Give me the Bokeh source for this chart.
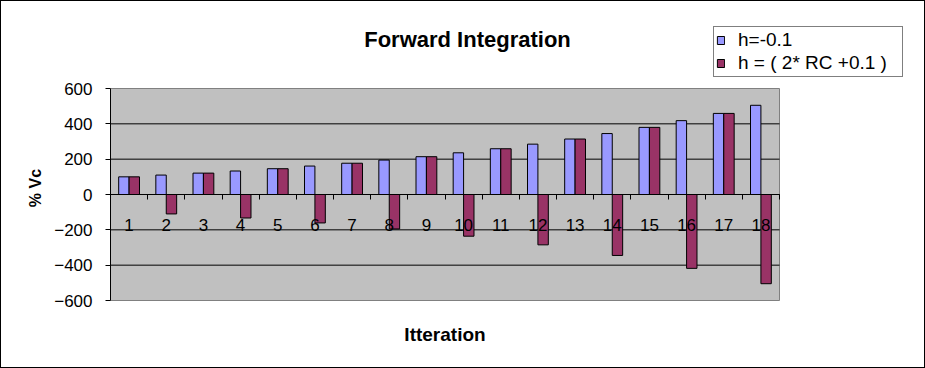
from bokeh.plotting import figure
from bokeh.models import (FixedTicker, LinearAxis, Legend, LegendItem, Range1d,
                          ColumnDataSource, BoxAnnotation, Label)
from bokeh.core.properties import value
from bokeh.transform import dodge
from bokeh.embed import file_html
from bokeh.resources import INLINE

# ---- data ----
iterations = [1, 2, 3, 4, 5, 6, 7, 8, 9, 10, 11, 12, 13, 14, 15, 16, 17, 18]
h_neg = [100, 110, 121, 133, 146, 161, 177, 195, 214, 236, 259, 285, 314, 345, 380, 418, 459, 505]
h_rc = [100, -110, 121, -133, 146, -161, 177, -195, 214, -236, 259, -285, 314, -345, 380, -418, 459, -505]
y_ticks = [-600, -400, -200, 0, 200, 400, 600]
category_labels = [str(i) for i in iterations]
series_names = ["h=-0.1", "h = ( 2* RC +0.1 )"]
title_text = "Forward Integration"
x_label = "Itteration"
y_label = "% Vc"

# ---- layout (pixels) ----
FIG_W, FIG_H = 925, 368
PLOT_L, PLOT_R, PLOT_T, PLOT_B = 110, 779, 88, 300   # grey plot area
FRAME_T, FRAME_R, FRAME_B = 15, 915, 360              # drawing frame
TITLE_X, TITLE_Y = 467, 39
XLAB_Y = 334
LEG_L, LEG_B = 713, 77

FONT = "Liberation Sans"
BLUE = "#9999FF"
RED = "#993366"
GREY = "#C0C0C0"

x0, x1 = iterations[0] - 0.5, iterations[-1] + 0.5
y0, y1 = y_ticks[0], y_ticks[-1]
px_x = (PLOT_R - PLOT_L) / (x1 - x0)
px_y = (PLOT_B - PLOT_T) / (y1 - y0)

p = figure(width=FIG_W, height=FIG_H, output_backend="svg", toolbar_location=None,
           x_range=Range1d(x0, x1 + (FRAME_R - PLOT_R) / px_x),
           y_range=Range1d(y0 - (FRAME_B - PLOT_B) / px_y, y1 + (PLOT_T - FRAME_T) / px_y),
           x_axis_type=None, y_axis_type=None,
           min_border_left=PLOT_L, min_border_right=FIG_W - FRAME_R,
           min_border_top=FRAME_T, min_border_bottom=FIG_H - FRAME_B)
p.background_fill_color = "white"
p.border_fill_color = None
p.outline_line_color = None
p.styles = {"outline": "1px solid black", "outline-offset": "-1px",
            "background-color": "white", "box-shadow": "inset 0 0 0 1px black"}

# grey plot area
p.add_layout(BoxAnnotation(left=x0, right=x1, bottom=y0, top=y1, level="image",
                           fill_color=GREY, fill_alpha=1,
                           line_color="#808080", line_width=1, line_alpha=1))

# horizontal grid lines (inside the plot area only)
grid_ticks = [t for t in y_ticks if t not in (y0, y1)]
p.segment(x0=[x0] * len(grid_ticks), x1=[x1] * len(grid_ticks),
          y0=grid_ticks, y1=grid_ticks, line_color="black", line_width=1,
          level="underlay")

# y axis
yaxis = LinearAxis(ticker=FixedTicker(ticks=y_ticks), axis_label=y_label, bounds=(y0, y1))
yaxis.axis_line_color = "black"
yaxis.major_tick_out = 5
yaxis.major_tick_in = 0
yaxis.major_tick_line_color = "black"
yaxis.minor_tick_line_color = None
yaxis.major_label_standoff = 13
yaxis.major_label_text_font = FONT
yaxis.major_label_text_font_size = "17px"
yaxis.major_label_text_color = "black"
yaxis.axis_label_text_font = FONT
yaxis.axis_label_text_font_size = "16px"
yaxis.axis_label_text_font_style = "bold"
yaxis.axis_label_text_color = "black"
yaxis.axis_label_standoff = 7
p.add_layout(yaxis, "left")

# bars
src = ColumnDataSource(dict(x=iterations, a=h_neg, b=h_rc))
r1 = p.vbar(x=dodge("x", -0.14), top="a", bottom=0, width=0.28, source=src,
            fill_color=BLUE, line_color="black", line_width=1)
r2 = p.vbar(x=dodge("x", 0.14), top="b", bottom=0, width=0.28, source=src,
            fill_color=RED, line_color="black", line_width=1)

# category axis line crossing at zero, tick marks between categories
boundaries = [i - 0.5 for i in iterations] + [iterations[-1] + 0.5]
xaxis = LinearAxis(ticker=FixedTicker(ticks=[iterations[0]], minor_ticks=boundaries),
                   fixed_location=0, bounds=(x0, x1),
                   major_label_overrides={iterations[0]: " "})
xaxis.axis_line_color = "black"
xaxis.major_tick_line_color = None
xaxis.major_tick_out = 0
xaxis.major_tick_in = 0
xaxis.minor_tick_line_color = "black"
xaxis.minor_tick_out = 5
xaxis.minor_tick_in = 0
xaxis.major_label_standoff = 0
xaxis.major_label_text_font_size = "1px"
xaxis.major_label_text_alpha = 0
p.add_layout(xaxis, "below")

# category labels (under the zero line, as in the original)
p.text(x=iterations, y=[0] * len(iterations), text=category_labels,
       text_align="center", text_baseline="middle", y_offset=30,
       text_font=value(FONT), text_font_size="17px", text_color="black",
       level="guide")

# x axis title
p.add_layout(Label(x=(x0 + x1) / 2, y=y0 - (XLAB_Y - PLOT_B) / px_y,
                   text=x_label, text_align="center", text_baseline="middle",
                   text_font=FONT, text_font_size="19px", text_font_style="bold",
                   text_color="black"))

# chart title
p.add_layout(Label(x=x0 + (TITLE_X - PLOT_L) / px_x, y=y1 + (PLOT_T - TITLE_Y) / px_y,
                   text=title_text, text_align="center", text_baseline="middle",
                   text_font=FONT, text_font_size="22px", text_font_style="bold",
                   text_color="black"))

legend = Legend(items=[LegendItem(label=series_names[0], renderers=[r1]),
                       LegendItem(label=series_names[1], renderers=[r2])],
                location=(LEG_L - PLOT_L, FRAME_B - LEG_B))
legend.border_line_color = "black"
legend.border_line_width = 1
legend.background_fill_color = "white"
legend.background_fill_alpha = 1
legend.label_text_font = FONT
legend.label_text_font_size = "19px"
legend.label_text_color = "black"
legend.glyph_width = 9
legend.glyph_height = 10
legend.label_standoff = 13
legend.label_height = 20
legend.label_width = 162
legend.padding = 2
legend.spacing = 1
legend.margin = 0
p.add_layout(legend)

open("out.html", "w").write(file_html(p, INLINE))
